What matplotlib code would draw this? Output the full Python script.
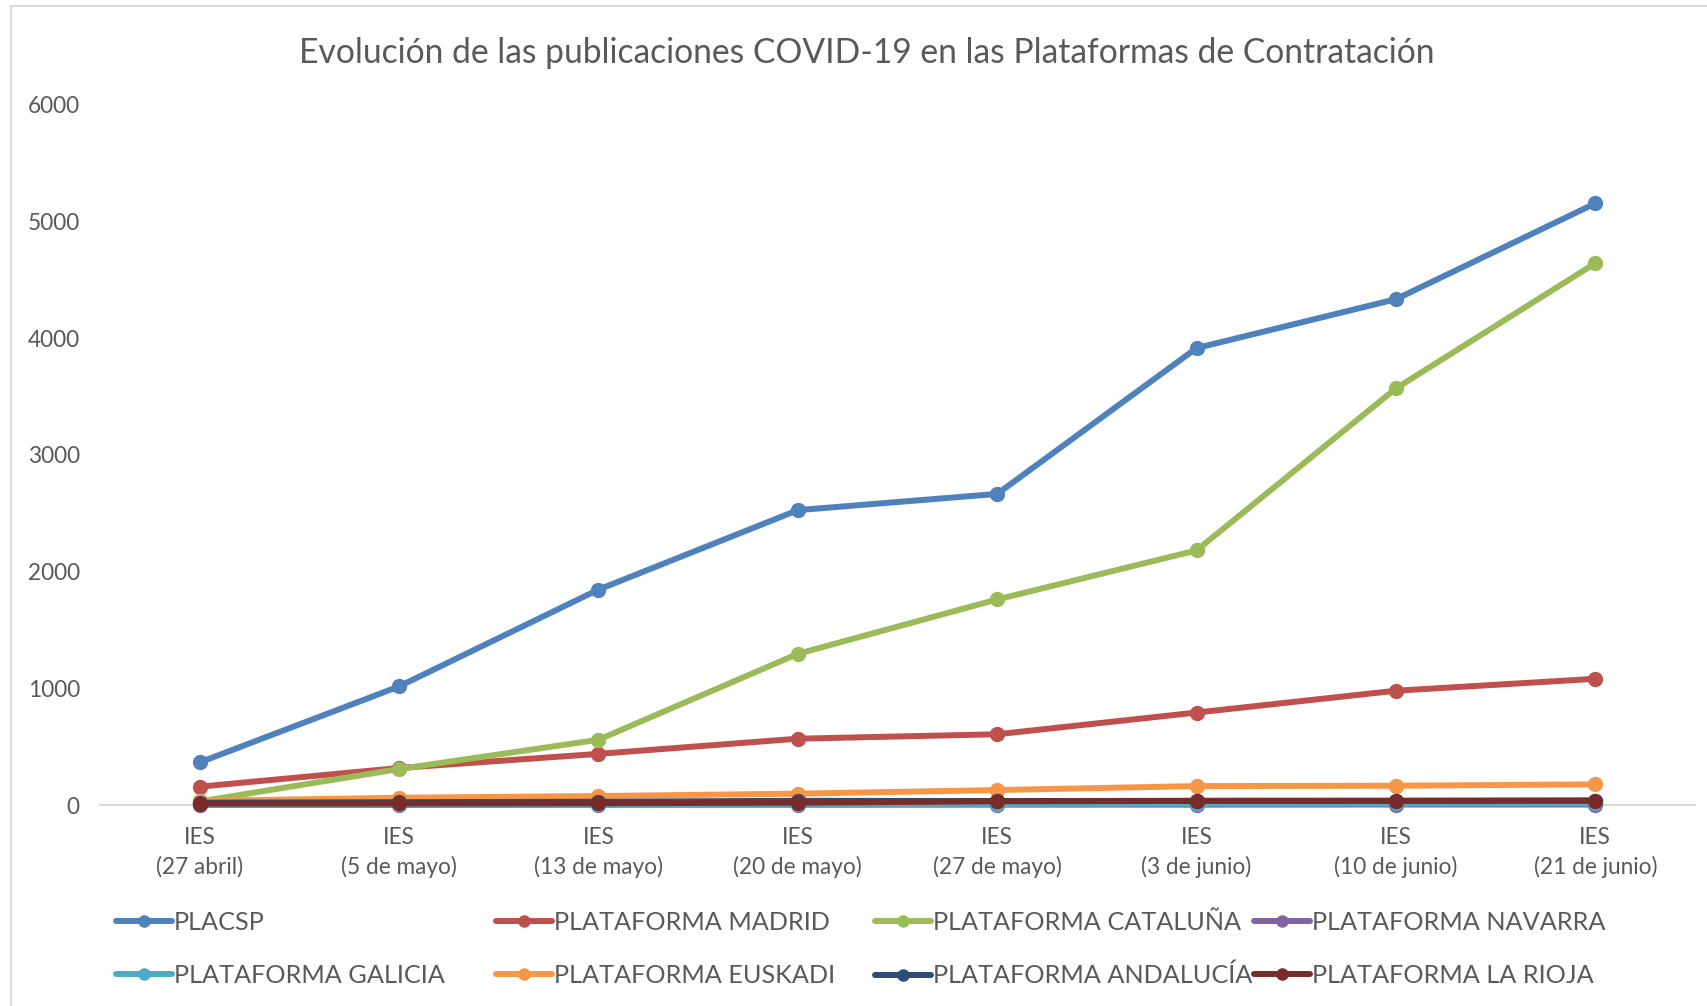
import matplotlib
matplotlib.use("Agg")
import matplotlib.pyplot as plt
from matplotlib.patches import Rectangle

plt.rcParams['font.family'] = ['Lato', 'DejaVu Sans']

categories = ["IES\n(27 abril)", "IES\n(5 de mayo)", "IES\n(13 de mayo)", "IES\n(20 de mayo)",
              "IES\n(27 de mayo)", "IES\n(3 de junio)", "IES\n(10 de junio)", "IES\n(21 de junio)"]

placsp = [365, 1016, 1845, 2526, 2665, 3914, 4333, 5154]
madrid = [157, 317, 438, 568, 606, 792, 979, 1081]
cataluna = [30, 308, 559, 1295, 1761, 2181, 3569, 4641]
navarra = [1, 1, 2, 2, 3, 3, 4, 4]
galicia = [5, 6, 8, 9, 10, 12, 13, 14]
euskadi = [35, 62, 77, 97, 128, 162, 165, 177]
andalucia = [20, 24, 28, 36, 34, 36, 36, 38]
larioja = [12, 13, 15, 20, 32, 35, 36, 38]

series_names = ["PLACSP", "PLATAFORMA MADRID", "PLATAFORMA CATALUÑA", "PLATAFORMA NAVARRA",
                "PLATAFORMA GALICIA", "PLATAFORMA EUSKADI", "PLATAFORMA ANDALUCÍA", "PLATAFORMA LA RIOJA"]
series_values = [placsp, madrid, cataluna, navarra, galicia, euskadi, andalucia, larioja]
colors = ["#4F81BD", "#C0504D", "#9BBB59", "#8064A2", "#4BACC6", "#F79646", "#2C4D75", "#772C2A"]

yticks = [0, 1000, 2000, 3000, 4000, 5000, 6000]

W, H = 1708, 1006
fig = plt.figure(figsize=(W / 100, H / 100), dpi=100)
fig.patch.set_facecolor("white")

# chart border
fig.patches.append(Rectangle((11 / W, -0.1), 1.2, 1 - 6 / H + 0.1, transform=fig.transFigure,
                             fill=False, edgecolor="#D9D9D9", linewidth=1.5))

ax = fig.add_axes([100 / W, 1 - 805 / H, (1695 - 100) / W, (805 - 104.6) / H])
x = list(range(len(categories)))
lines = []
for name, vals, c in zip(series_names, series_values, colors):
    ln, = ax.plot(x, vals, color=c, linewidth=4.3, marker='o', markersize=10,
                  solid_capstyle='round', label=name)
    lines.append(ln)

ax.set_xlim(-0.5, len(categories) - 0.5)
ax.set_ylim(0, 6000)
ax.set_yticks(yticks)
ax.set_yticklabels([str(v) for v in yticks])
ax.set_xticks(x)
ax.set_xticklabels(categories, linespacing=1.45)
for s in ["top", "right", "left"]:
    ax.spines[s].set_visible(False)
ax.spines["bottom"].set_color("#D9D9D9")
ax.spines["bottom"].set_linewidth(1.5)
ax.spines["bottom"].set_zorder(0)
ax.tick_params(axis='both', length=0, labelsize=16.3, labelcolor="#595959")
ax.tick_params(axis='y', pad=14.5)
ax.tick_params(axis='x', pad=16)
for ln in lines:
    ln.set_clip_on(False)

fig.text(867 / W, 1 - 53 / H, "Evolución de las publicaciones COVID-19 en las Plataformas de Contratación",
         ha='center', va='center', fontsize=24.2, color="#595959")

# legend: four columns, two rows
col_x = [116, 496, 875, 1254]
for ci, cx in enumerate(col_x):
    hs = [lines[ci], lines[ci + 4]]
    labs = [series_names[ci], series_names[ci + 4]]
    fig.legend(hs, labs, loc='center left', bbox_to_anchor=(cx / W, 1 - 949 / H),
               frameon=False, fontsize=18.2, labelcolor="#595959", handlelength=2.2,
               handletextpad=0.1, borderpad=0, borderaxespad=0, labelspacing=1.2,
               markerscale=0.8)

fig.savefig("out.png", dpi=100, facecolor="white")
